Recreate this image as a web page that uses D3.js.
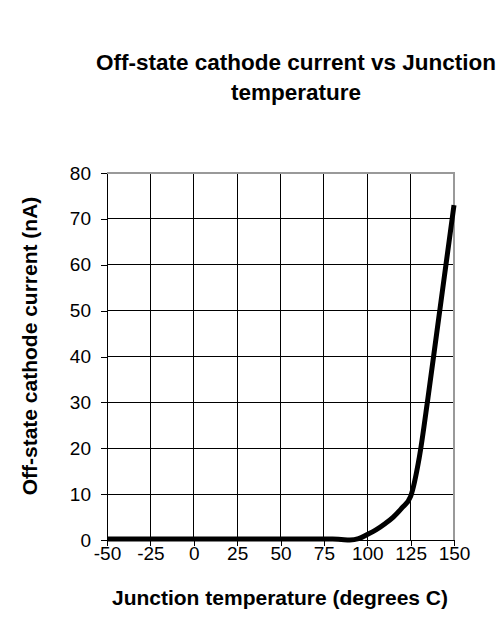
<!DOCTYPE html>
<html>
<head>
<meta charset="utf-8">
<script src="https://d3js.org/d3.v7.min.js"></script>
<style>
  body { margin: 0; background: #fff; }
  text { font-family: Arial, "Liberation Sans", sans-serif; fill: #000; }
</style>
</head>
<body>
<div id="chart"></div>
<script>
// temperature (deg C) vs off-state cathode current (nA)
const temps = [-50, -25, 0, 25, 50, 75, 80, 85, 90, 95, 100, 105, 110, 115, 120, 125, 130, 135, 140, 145, 150];
const current = [0.2, 0.2, 0.2, 0.2, 0.2, 0.2, 0.2, 0.1, 0.0, 0.3, 1.2, 2.2, 3.5, 5.0, 7.0, 9.5, 18, 31, 45, 59, 73];
const xTicks = [-50, -25, 0, 25, 50, 75, 100, 125, 150];
const yTicks = [0, 10, 20, 30, 40, 50, 60, 70, 80];

const width = 503, height = 619;
const plotL = 107, plotR = 454, plotT = 173, plotB = 540;

let svg = d3.select("#chart").append("svg")
    .attr("width", width)
    .attr("height", height);

let x = d3.scaleLinear().domain([-50, 150]).range([plotL, plotR]);
let y = d3.scaleLinear().domain([0, 80]).range([plotB, plotT]);

// grid
svg.append("g").selectAll("line").data(xTicks.slice(1, -1)).enter().append("line")
    .attr("x1", d => x(d)).attr("x2", d => x(d))
    .attr("y1", plotT).attr("y2", plotB)
    .attr("stroke", "#000").attr("stroke-width", 1).attr("shape-rendering", "crispEdges");
svg.append("g").selectAll("line").data(yTicks.slice(1, -1)).enter().append("line")
    .attr("x1", plotL).attr("x2", plotR)
    .attr("y1", d => y(d)).attr("y2", d => y(d))
    .attr("stroke", "#000").attr("stroke-width", 1).attr("shape-rendering", "crispEdges");

// top and right border (grey)
svg.append("path")
    .attr("d", `M${plotL},${plotT}H${plotR}V${plotB}`)
    .attr("fill", "none").attr("stroke", "#999").attr("stroke-width", 2)
    .attr("shape-rendering", "crispEdges");

// axes
let xAxis = svg.append("g")
    .attr("transform", `translate(0,${plotB})`)
    .call(d3.axisBottom(x).tickValues(xTicks).tickFormat(d => String(d))
        .tickSize(6).tickPadding(1).tickSizeOuter(0));
let yAxis = svg.append("g")
    .attr("transform", `translate(${plotL},0)`)
    .call(d3.axisLeft(y).tickValues(yTicks).tickFormat(d => String(d))
        .tickSize(6).tickPadding(10).tickSizeOuter(0));

[xAxis, yAxis].forEach(g => {
    g.attr("font-size", null).attr("font-family", null);
    g.selectAll("path, line").attr("stroke", "#000").attr("shape-rendering", "crispEdges");
    g.selectAll("text").style("font-size", "19px");
});
xAxis.selectAll("text").attr("dy", "0.71em");

// curve
let line = d3.line()
    .x((d, i) => x(temps[i]))
    .y(d => y(d))
    .curve(d3.curveMonotoneX);

svg.append("path")
    .datum(current)
    .attr("d", line)
    .attr("fill", "none")
    .attr("stroke", "#000")
    .attr("stroke-width", 5)
    .attr("stroke-linejoin", "round");

// titles
let title = svg.append("text")
    .attr("text-anchor", "middle")
    .attr("font-weight", "bold")
    .style("font-size", "22.5px");
title.append("tspan").attr("x", 296).attr("y", 70).text("Off-state cathode current vs Junction");
title.append("tspan").attr("x", 296).attr("y", 100).text("temperature");

svg.append("text")
    .attr("x", 280).attr("y", 605)
    .attr("text-anchor", "middle")
    .attr("font-weight", "bold")
    .style("font-size", "21px")
    .text("Junction temperature (degrees C)");

svg.append("text")
    .attr("transform", "translate(37,346) rotate(-90)")
    .attr("text-anchor", "middle")
    .attr("font-weight", "bold")
    .style("font-size", "21px")
    .text("Off-state cathode current (nA)");
</script>
</body>
</html>
